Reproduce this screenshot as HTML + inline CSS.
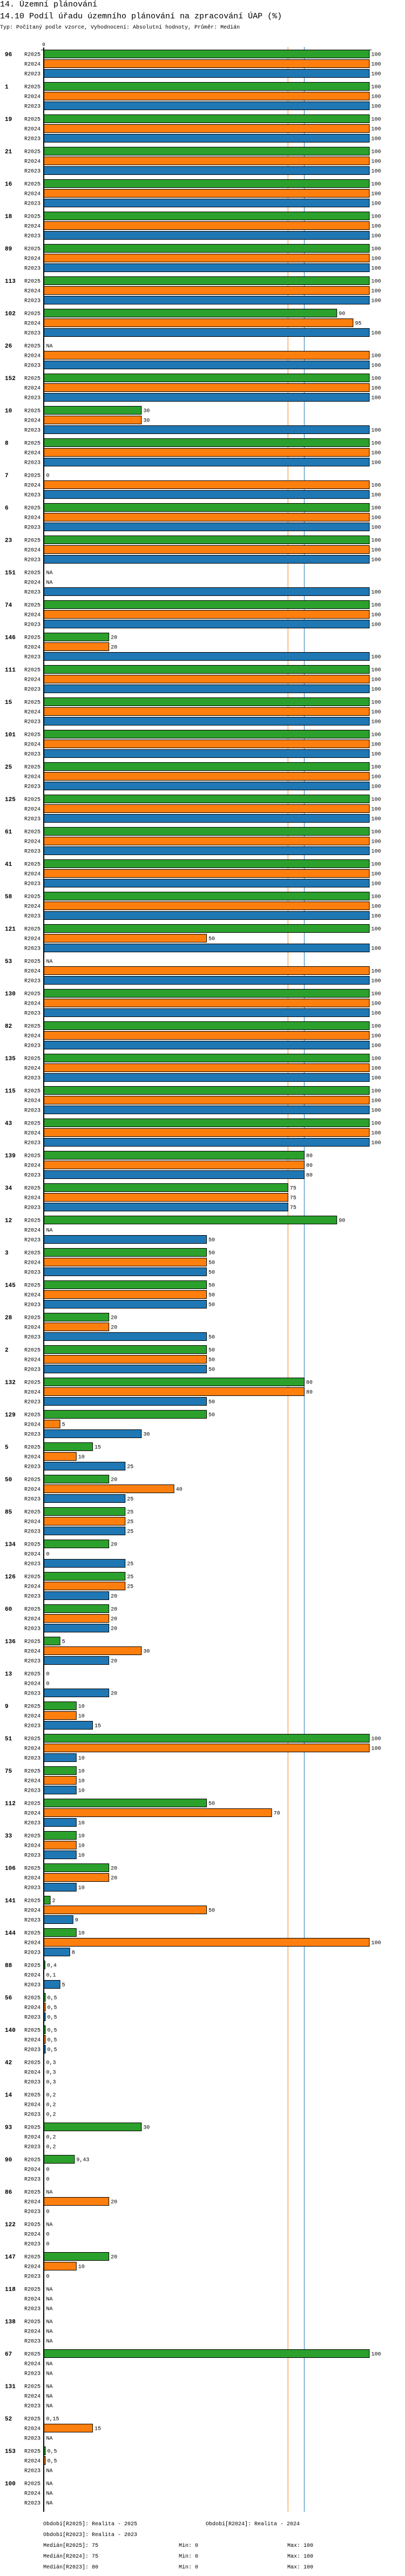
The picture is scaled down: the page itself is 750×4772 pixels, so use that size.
<!DOCTYPE html>
<html><head><meta charset="utf-8">
<style>
html,body{margin:0;padding:0;background:#fff;}
body{width:750px;height:4772px;overflow:hidden;position:relative;font-family:"Liberation Mono","DejaVu Sans Mono",monospace;}
.t{position:absolute;left:0;white-space:nowrap;color:#000;}
svg text{font-family:"Liberation Mono","DejaVu Sans Mono",monospace;}
</style></head>
<body>
<div class="t" style="top:0px;font-size:15px;line-height:17px;">14. Územní plánování</div>
<div class="t" style="top:22px;font-size:15px;line-height:17px;">14.10 Podíl úřadu územního plánování na zpracování ÚAP (%)</div>
<div class="t" style="top:46px;font-size:10px;line-height:12px;">Typ: Počítaný podle vzorce, Vyhodnocení: Absolutní hodnoty, Průměr: Medián</div>
<svg id="chart" width="750" height="4772" style="position:absolute;left:0;top:0;" xmlns="http://www.w3.org/2000/svg"></svg>
<script>
const categories = ["96","1","19","21","16","18","89","113","102","26","152","10","8","7","6","23","151","74","146","111","15","101","25","125","61","41","58","121","53","130","82","135","115","43","139","34","12","3","145","28","2","132","129","5","50","85","134","126","60","136","13","9","51","75","112","33","106","141","144","88","56","140","42","14","93","90","86","122","147","118","138","67","131","52","153","100"];
const seriesNames = ["R2025","R2024","R2023"];
const values2025 = [100,100,100,100,100,100,100,100,90,null,100,30,100,0,100,100,null,100,20,100,100,100,100,100,100,100,100,100,null,100,100,100,100,100,80,75,90,50,50,20,50,80,50,15,20,25,20,25,20,5,0,10,100,10,50,10,20,2,10,0.4,0.5,0.5,0.3,0.2,30,9.43,null,null,20,null,null,100,null,0.15,0.5,null];
const values2024 = [100,100,100,100,100,100,100,100,95,100,100,30,100,100,100,100,null,100,20,100,100,100,100,100,100,100,100,50,100,100,100,100,100,100,80,75,null,50,50,20,50,80,5,10,40,25,0,25,20,30,0,10,100,10,70,10,20,50,100,0.1,0.5,0.5,0.3,0.2,0.2,0,20,0,10,null,null,null,null,15,0.5,null];
const values2023 = [100,100,100,100,100,100,100,100,100,100,100,100,100,100,100,100,100,100,100,100,100,100,100,100,100,100,100,100,100,100,100,100,100,100,80,75,50,50,50,50,50,50,30,25,25,25,25,20,20,20,20,15,10,10,10,10,10,9,8,5,0.5,0.5,0.3,0.2,0.2,0,0,0,0,null,null,null,null,null,null,null];
const medians = [75,75,80];
const colors = ["#2ca02c","#ff7f0e","#1f77b4"];

const svg = document.getElementById('chart');
const NS = "http://www.w3.org/2000/svg";
const X0 = 81, X100 = 684, TOP = 92, GROUP = 60, ROW = 18, BH = 15, BOTTOM = 4653;
function xs(v){ return X0 + (X100 - X0) * v / 100; }
function rowY(g, r){ return TOP + g * GROUP + r * ROW; }
function fmt(v){ return v === null ? "NA" : String(v).replace('.', ','); }
function mk(tag, attrs){ const e = document.createElementNS(NS, tag); for (const k in attrs) e.setAttribute(k, attrs[k]); svg.appendChild(e); return e; }

// median lines
const medColors = ["#ff7f0e", "#1f77b4"];
[medians[1], medians[2]].forEach((m, i) => {
  const l = mk('line', {x1: xs(m), x2: xs(m), y1: 87, y2: BOTTOM, stroke: medColors[i], 'stroke-width': 1});
  
  
});

// top axis
const ax = mk('line', {x1: 76, x2: 688, y1: 92.5, y2: 92.5, stroke: '#000', 'stroke-width': 1});


const t0 = mk('text', {x: X0, y: 85, 'font-size': 9, 'text-anchor': 'middle'});
t0.textContent = "0";



const all = [values2025, values2024, values2023];
categories.forEach((cat, g) => {
  const gl = mk('text', {x: 9, y: rowY(g, 0) + 12, 'font-size': 11, 'font-weight': 'bold'});
  gl.textContent = cat;
  
  
  for (let r = 0; r < 3; r++) {
    const y = rowY(g, r);
    const v = all[r][g];
    const sl = mk('text', {x: 75, y: y + 11.5, 'font-size': 10, 'text-anchor': 'end'});
    sl.textContent = seriesNames[r];
    
    
    let end = X0 + 1;
    if (v !== null && v > 0) {
      const w = xs(v) - X0;
      if (w >= 2) {
        const b = mk('rect', {x: X0 + 0.5, y: y + 0.5, width: w - 0.5, height: BH, fill: colors[r], stroke: '#000', 'stroke-width': 1});
        
        
        end = xs(v);
      }
    }
    const vl = mk('text', {x: end + 3.5, y: y + 11.5, 'font-size': 10});
    vl.textContent = fmt(v);
    
    
  }
});

// vertical axis
const ay = mk('line', {x1: 81, x2: 81, y1: 88, y2: BOTTOM, stroke: '#000', 'stroke-width': 2});



// footer
const footer = [
  ["Období[R2025]: Realita - 2025", 80, 4678, 'legend-period-r2025'],
  ["Období[R2024]: Realita - 2024", 381, 4678, 'legend-period-r2024'],
  ["Období[R2023]: Realita - 2023", 80, 4698, 'legend-period-r2023'],
  ["Medián[R2025]: 75", 80, 4718, 'median-r2025'],
  ["Min: 0", 331, 4718, 'min-r2025'],
  ["Max: 100", 532, 4718, 'max-r2025'],
  ["Medián[R2024]: 75", 80, 4738, 'median-r2024'],
  ["Min: 0", 331, 4738, 'min-r2024'],
  ["Max: 100", 532, 4738, 'max-r2024'],
  ["Medián[R2023]: 80", 80, 4758, 'median-r2023'],
  ["Min: 0", 331, 4758, 'min-r2023'],
  ["Max: 100", 532, 4758, 'max-r2023']
];
footer.forEach(f => {
  const t = mk('text', {x: f[1], y: f[2], 'font-size': 10});
  t.textContent = f[0];
  
  
});
</script>
</body></html>
